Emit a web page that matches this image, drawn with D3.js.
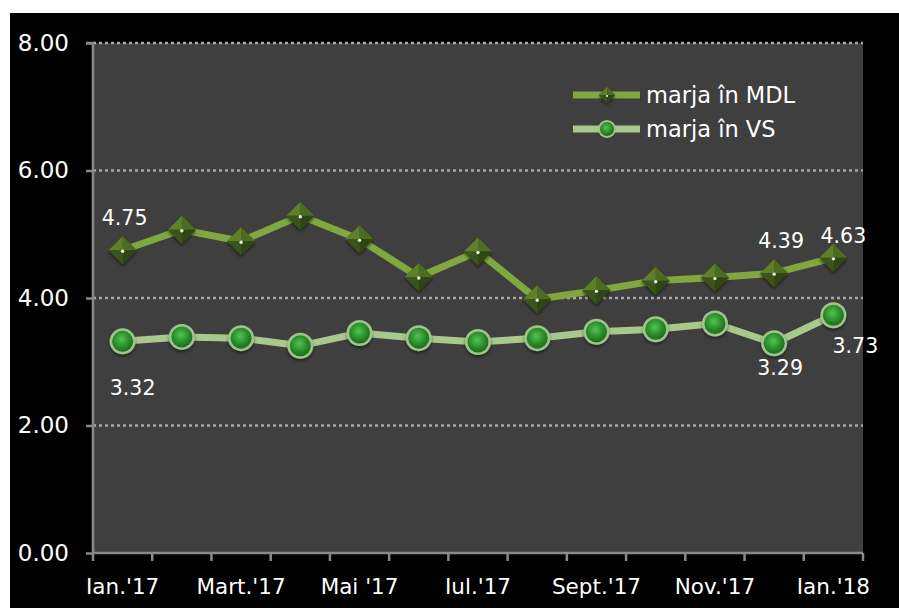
<!DOCTYPE html>
<html><head><meta charset="utf-8">
<script src="https://cdn.jsdelivr.net/npm/d3@7"></script>
<style>
html,body{margin:0;padding:0;background:#fff;}
svg{display:block;}
text{font-family:"DejaVu Sans",sans-serif;fill:#fff;}
</style></head>
<body>
<script>
const categories = ["Ian.'17","Feb.'17","Mart.'17","Apr.'17","Mai '17","Iun.'17","Iul.'17","Aug.'17","Sept.'17","Oct.'17","Nov.'17","Dec.'17","Ian.'18"];
const tickLabels = ["Ian.'17","","Mart.'17","","Mai '17","","Iul.'17","","Sept.'17","","Nov.'17","","Ian.'18"];
const seriesNames = ["marja în MDL","marja în VS"];
const marjaMDL = [4.75,5.07,4.89,5.29,4.92,4.33,4.73,3.98,4.12,4.27,4.32,4.39,4.63];
const marjaVS  = [3.32,3.39,3.37,3.25,3.45,3.37,3.31,3.37,3.47,3.51,3.60,3.29,3.73];
const yTicks = [0,2,4,6,8];
const labelsMDL = [0,11,12];
const labelsVS = [0,11,12];

const W=899,H=608;
const svg=d3.select("body").append("svg").attr("width",W).attr("height",H);
const defs=svg.append("defs");
const cg=defs.append("radialGradient").attr("id","cg").attr("cx","0.45").attr("cy","0.4").attr("r","0.6");
cg.append("stop").attr("offset","0").attr("stop-color","#52c452");
cg.append("stop").attr("offset","0.6").attr("stop-color","#2b8f2b");
cg.append("stop").attr("offset","1").attr("stop-color","#1d6a1d");
const sh=defs.append("filter").attr("id","sh").attr("x","-50%").attr("y","-50%").attr("width","200%").attr("height","200%");
sh.append("feDropShadow").attr("dx",0).attr("dy",2).attr("stdDeviation",1.5).attr("flood-color","#000").attr("flood-opacity",0.5);

svg.append("rect").attr("x",10).attr("y",13).attr("width",W-10).attr("height",H-13).attr("fill","#000");

const L=93,R=863,T=43,B=553;
const x=d3.scaleBand().domain(categories).range([L,R]);
const y=d3.scaleLinear().domain([0,8]).range([B,T]);
const cx=c=>x(c)+x.bandwidth()/2;

svg.append("rect").attr("x",L).attr("y",T).attr("width",R-L).attr("height",B-T).attr("fill","#3f3f3f");

svg.append("g").selectAll("line").data(yTicks.filter(d=>d>0)).join("line")
 .attr("x1",L).attr("x2",R).attr("y1",d=>y(d)).attr("y2",d=>y(d))
 .attr("stroke","#a8a8a8").attr("stroke-width",2.5).attr("stroke-dasharray","3,3");

const yAxis=d3.axisLeft(y).tickValues(yTicks).tickFormat(d3.format(".2f")).tickSize(7).tickPadding(17);
const gy=svg.append("g").attr("transform",`translate(${L},0)`).call(yAxis);
gy.select(".domain").attr("stroke","#8a8a8a").attr("stroke-width",2.5).attr("d",`M-7,${T}H0V${B}`);
gy.selectAll(".tick line").attr("stroke","#8a8a8a").attr("stroke-width",2.5);
gy.selectAll(".tick text").attr("font-size",23).attr("fill","#fff").attr("font-family","DejaVu Sans");

const xAxis=d3.axisBottom(x).tickFormat((d,i)=>tickLabels[i]).tickSize(0).tickPadding(26);
const gx=svg.append("g").attr("transform",`translate(0,${B})`).call(xAxis);
gx.select(".domain").attr("stroke","#8a8a8a").attr("stroke-width",2.5).attr("d",`M${L},0H${R}`);
gx.selectAll(".tick line").remove();
gx.selectAll(".tick text").attr("font-size",21.5).attr("fill","#fff").attr("font-family","DejaVu Sans");
const bounds=categories.map(c=>x(c)).concat([R]);
svg.append("g").selectAll("line").data(bounds).join("line")
 .attr("x1",d=>d).attr("x2",d=>d).attr("y1",B).attr("y2",B+8)
 .attr("stroke","#8a8a8a").attr("stroke-width",2.5);

const line=d3.line().x((d,i)=>cx(categories[i])).y(d=>y(d));

svg.append("path").datum(marjaMDL).attr("d",line).attr("fill","none").attr("stroke","#7fa83e").attr("stroke-width",7);
svg.append("path").datum(marjaVS).attr("d",line).attr("fill","none").attr("stroke","#a8c98c").attr("stroke-width",7);

function diamond(g,px,py,s){
  const d=g.append("g").attr("filter","url(#sh)");
  d.append("path").attr("d",`M${px},${py-s}L${px+s},${py}L${px},${py+s}L${px-s},${py}Z`).attr("fill","#3f5a1a");
  d.append("path").attr("d",`M${px},${py-s}L${px},${py}L${px-s},${py}Z`).attr("fill","#5e7f2c");
  d.append("path").attr("d",`M${px},${py-s}L${px+s},${py}L${px},${py}Z`).attr("fill","#4d6c22");
  d.append("path").attr("d",`M${px-s},${py}L${px},${py}L${px},${py+s}Z`).attr("fill","#3a531a");
  d.append("path").attr("d",`M${px+s},${py}L${px},${py}L${px},${py+s}Z`).attr("fill","#2f4514");
  d.append("circle").attr("cx",px).attr("cy",py+1).attr("r",s>10?1.7:1.1).attr("fill","#e8f0d8");
}
const gd=svg.append("g");
marjaMDL.forEach((v,i)=>diamond(gd,cx(categories[i]),y(v),14));

const gc=svg.append("g");
marjaVS.forEach((v,i)=>{
  gc.append("circle").attr("cx",cx(categories[i])).attr("cy",y(v)).attr("r",13).attr("fill","#9ec48a").attr("filter","url(#sh)");
  gc.append("circle").attr("cx",cx(categories[i])).attr("cy",y(v)).attr("r",10.5).attr("fill","url(#cg)");
});

const fmt=d3.format(".2f");
const lblOffMDL={0:[2,-25],11:[7,-25],12:[10,-15]};
const lblOffVS={0:[10,54],11:[6,32],12:[22,38]};
svg.append("g").selectAll("text").data(labelsMDL).join("text")
 .attr("x",i=>cx(categories[i])+lblOffMDL[i][0]).attr("y",i=>y(marjaMDL[i])+lblOffMDL[i][1])
 .attr("text-anchor","middle").attr("font-size",20.5).text(i=>fmt(marjaMDL[i]));
svg.append("g").selectAll("text").data(labelsVS).join("text")
 .attr("x",i=>cx(categories[i])+lblOffVS[i][0]).attr("y",i=>y(marjaVS[i])+lblOffVS[i][1])
 .attr("text-anchor","middle").attr("font-size",20.5).text(i=>fmt(marjaVS[i]));

const lg=svg.append("g");
const ly=[95,129];
lg.append("line").attr("x1",573).attr("x2",640).attr("y1",ly[0]).attr("y2",ly[0]).attr("stroke","#7fa83e").attr("stroke-width",7);
diamond(lg,607,ly[0],8);
lg.append("line").attr("x1",573).attr("x2",640).attr("y1",ly[1]).attr("y2",ly[1]).attr("stroke","#a8c98c").attr("stroke-width",7);
lg.append("circle").attr("cx",607).attr("cy",ly[1]).attr("r",9).attr("fill","#9ec48a");
lg.append("circle").attr("cx",607).attr("cy",ly[1]).attr("r",7).attr("fill","url(#cg)");
lg.selectAll("text.l").data(seriesNames).join("text").attr("class","l")
 .attr("x",646).attr("y",(d,i)=>ly[i]+8).attr("font-size",22.5).text(d=>d);
</script>
</body></html>
